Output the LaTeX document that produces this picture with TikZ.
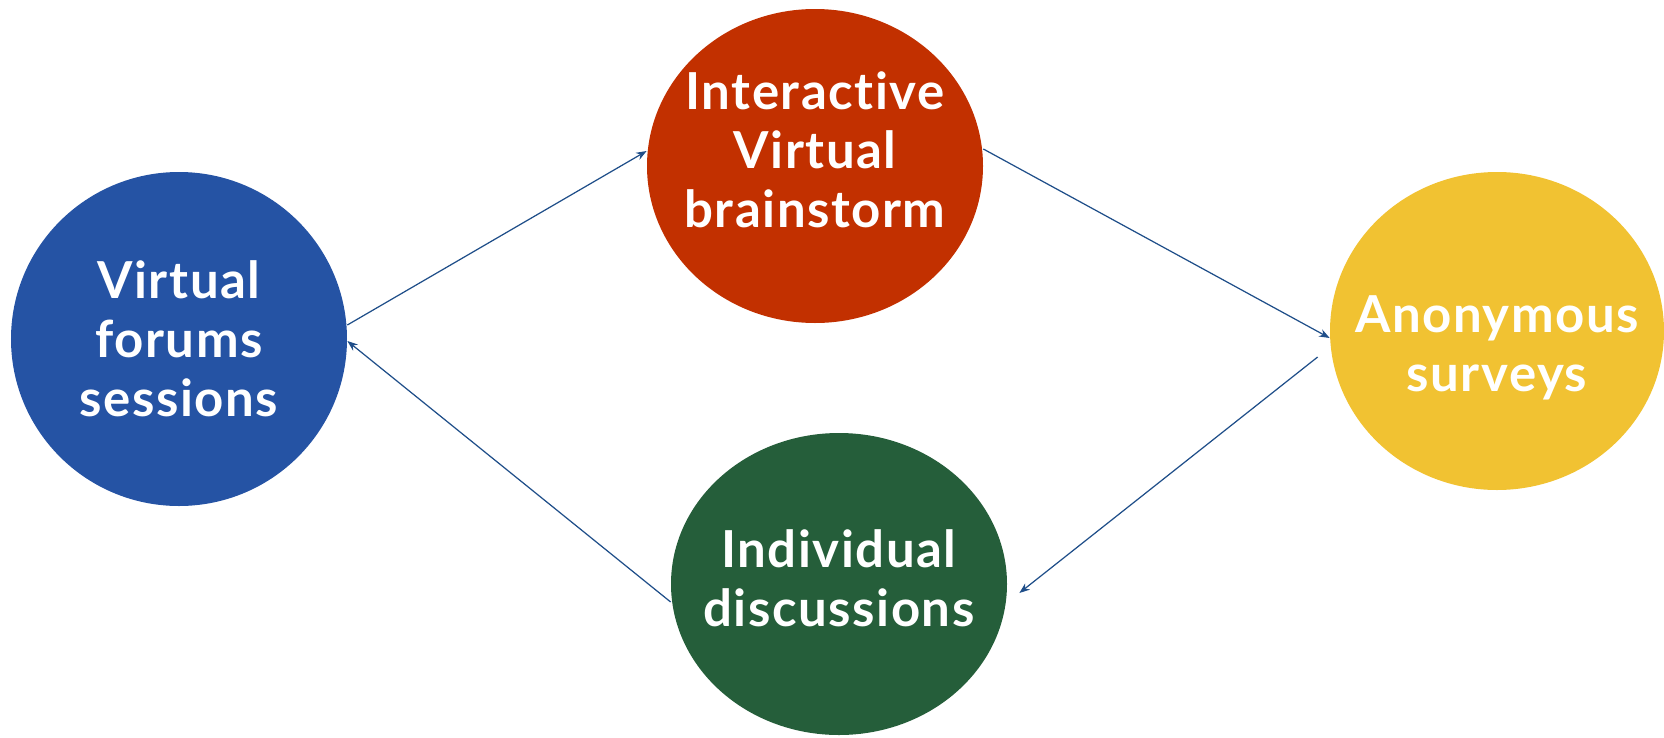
\documentclass[tikz,border=0pt]{standalone}
\usepackage{fontspec}
\setmainfont{Lato}[Ligatures=NoCommon, LetterSpace=3]
\usepackage{tikz}
\usepackage{xcolor}
\usetikzlibrary{shapes.geometric}
\usetikzlibrary{positioning}
\usetikzlibrary{arrows.meta}
\definecolor{forumblue}{HTML}{2553A4}
\definecolor{stormred}{HTML}{C23000}
\definecolor{surveyyellow}{HTML}{F1C232}
\definecolor{talkgreen}{HTML}{255E3A}
\definecolor{arrowblue}{HTML}{1F4E89}
% text lifted inside the bubble without changing its size
\newcommand{\bubbletext}[2]{\raisebox{#1}[0pt][0pt]{\begin{tabular}{@{}c@{}}#2\end{tabular}}}
\tikzstyle{bubble} = [ellipse, inner xsep=-1.3cm, inner ysep=0pt, text=white, text centered, font=\fontsize{29}{33.5}\selectfont\bfseries]
\tikzstyle{forum} = [bubble, minimum width=6.72cm, minimum height=6.68cm, fill=forumblue]
\tikzstyle{storm} = [bubble, minimum width=6.72cm, minimum height=6.28cm, fill=stormred]
\tikzstyle{survey} = [bubble, minimum width=6.68cm, minimum height=6.36cm, fill=surveyyellow]
\tikzstyle{talk} = [bubble, minimum width=6.72cm, minimum height=6.04cm, fill=talkgreen]
\tikzstyle{arrow} = [line width=0.7pt, draw=arrowblue, ->, >={Stealth[length=6pt,width=4.5pt]}]
\begin{document}
\begin{tikzpicture}[node distance=2cm]
        \useasboundingbox (-3.58,-7.96) rectangle (29.7,6.78);
        \node (forums) [forum] {\bubbletext{-0.36cm}{Virtual\\forums\\sessions}};
        \node (brainstorm) [storm, right of=forums, xshift=10.72cm, yshift=3.46cm] {\bubbletext{-0.04cm}{Interactive\\Virtual\\brainstorm}};
        \node (surveys) [survey, right of=brainstorm, xshift=11.64cm, yshift=-3.3cm] {\bubbletext{-0.6cm}{Anonymous\\surveys}};
        \node (discussions) [talk, right of=forums, xshift=11.2cm, yshift=-4.9cm] {\bubbletext{-0.25cm}{Individual\\discussions}};

        \draw [arrow] ([yshift=0.28cm]forums.east) -- ([yshift=0.3cm]brainstorm.west);
        \draw [arrow] ([yshift=0.34cm]brainstorm.east) -- ([yshift=-0.14cm]surveys.west);
        \draw [arrow] ([xshift=-0.24cm,yshift=-0.52cm]surveys.west) -- ([xshift=0.24cm,yshift=-0.18cm]discussions.east);
        \draw [arrow] ([yshift=-0.36cm]discussions.west) -- ([yshift=-0.04cm]forums.east);
    \end{tikzpicture}
\end{document}
